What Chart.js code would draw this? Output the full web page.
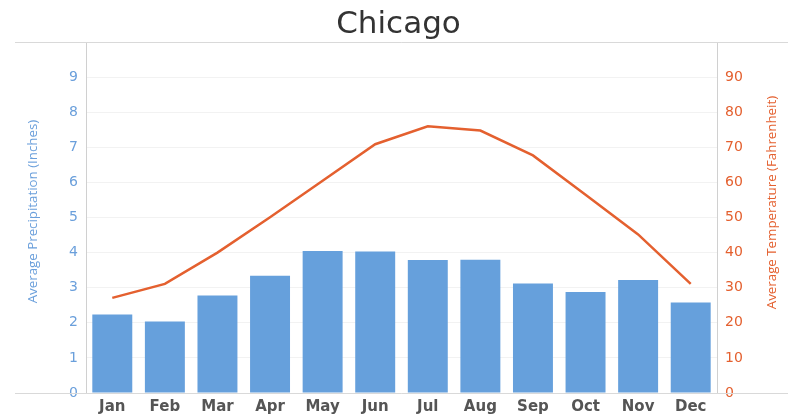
<!DOCTYPE html>
<html lang="en">
<head>
    <meta charset="UTF-8">
    <title>Chicago</title>
    <script src="https://cdn.jsdelivr.net/npm/chart.js"></script>
    <style>
        html, body { margin: 0; padding: 0; background: #fff; }
        #wrap { width: 797px; height: 414px; }
    </style>
</head>
<body>
    <div id="wrap"><canvas id="myChart"></canvas></div>

    <script>
        // monthly averages for Chicago
        const months = ['Jan', 'Feb', 'Mar', 'Apr', 'May', 'Jun', 'Jul', 'Aug', 'Sep', 'Oct', 'Nov', 'Dec'];
        const precipitation = [2.24, 2.04, 2.78, 3.34, 4.05, 4.03, 3.79, 3.80, 3.12, 2.88, 3.22, 2.58];
        const temperature = [27.1, 31.1, 40.0, 50.1, 60.5, 70.9, 76.0, 74.8, 67.7, 56.5, 45.2, 31.1];

        const blue = '#6a9fdb';
        const orange = '#e4602f';
        const leftTitle = 'Average Precipitation (Inches)';
        const rightTitle = 'Average Temperature (Fahrenheit)';

        // long rules across the top and bottom of the plot,
        // plus both axis titles (both read bottom to top)
        const frameLines = {
            id: 'frameLines',
            afterDraw(chart) {
                const ctx = chart.ctx;
                const area = chart.chartArea;
                const mid = (area.top + area.bottom) / 2;
                ctx.save();
                ctx.strokeStyle = '#d9d9d9';
                ctx.lineWidth = 1;
                [area.top, area.bottom].forEach(y => {
                    ctx.beginPath();
                    ctx.moveTo(15, Math.round(y) + 0.5);
                    ctx.lineTo(chart.width - 9, Math.round(y) + 0.5);
                    ctx.stroke();
                });

                ctx.font = '13.3px "Open Sans"';
                ctx.textAlign = 'center';
                ctx.textBaseline = 'middle';
                const vText = (text, color, x, y) => {
                    ctx.save();
                    ctx.translate(x, y);
                    ctx.rotate(-Math.PI / 2);
                    ctx.fillStyle = color;
                    ctx.fillText(text, 0, 0);
                    ctx.restore();
                };
                vText(leftTitle, blue, 33, mid - 6);
                vText(rightTitle, orange, chart.width - 25, mid - 15);
                ctx.restore();
            }
        };

        const ctx = document.getElementById('myChart').getContext('2d');
        const myChart = new Chart(ctx, {
            data: {
                labels: months,
                datasets: [{
                    type: 'line',
                    label: 'Average Temperature',
                    data: temperature,
                    yAxisID: 'y1',
                    borderColor: orange,
                    borderWidth: 2.5,
                    pointRadius: 0,
                    tension: 0,
                    order: 0
                }, {
                    type: 'bar',
                    label: 'Average Precipitation',
                    data: precipitation,
                    yAxisID: 'y',
                    backgroundColor: '#66a0dc',
                    categoryPercentage: 1,
                    barPercentage: 0.76,
                    order: 1
                }]
            },
            options: {
                responsive: true,
                maintainAspectRatio: false,
                animation: false,
                layout: { padding: 0 },
                plugins: {
                    legend: { display: false },
                    tooltip: { enabled: false },
                    title: {
                        display: true,
                        text: 'Chicago',
                        color: '#333',
                        font: { family: 'DejaVu Sans', size: 31, weight: 'normal', lineHeight: 1.1 },
                        padding: { top: 8, bottom: 0 }
                    }
                },
                scales: {
                    x: {
                        grid: { display: false, drawTicks: false },
                        border: { display: false },
                        ticks: {
                            color: '#555',
                            padding: 5,
                            font: { family: 'DejaVu Sans', size: 15, weight: 'bold' }
                        },
                        afterFit(scale) { scale.height = 21; }
                    },
                    y: {
                        position: 'left',
                        min: 0,
                        max: 10,
                        grid: { color: '#f2f2f2', drawTicks: false },
                        border: { color: '#d0d0d0' },
                        ticks: {
                            stepSize: 1,
                            padding: 8,
                            color: blue,
                            font: { family: 'DejaVu Sans', size: 14 },
                            callback: v => v === 10 ? '' : v
                        },
                        afterFit(scale) { scale.width = 86; }
                    },
                    y1: {
                        position: 'right',
                        min: 0,
                        max: 100,
                        grid: { display: false, drawTicks: false },
                        border: { color: '#d0d0d0' },
                        ticks: {
                            stepSize: 10,
                            padding: 8,
                            color: orange,
                            font: { family: 'DejaVu Sans', size: 14 },
                            callback: v => v === 100 ? '' : v
                        },
                        afterFit(scale) { scale.width = 80; }
                    }
                }
            },
            plugins: [frameLines]
        });
    </script>
</body>
</html>
